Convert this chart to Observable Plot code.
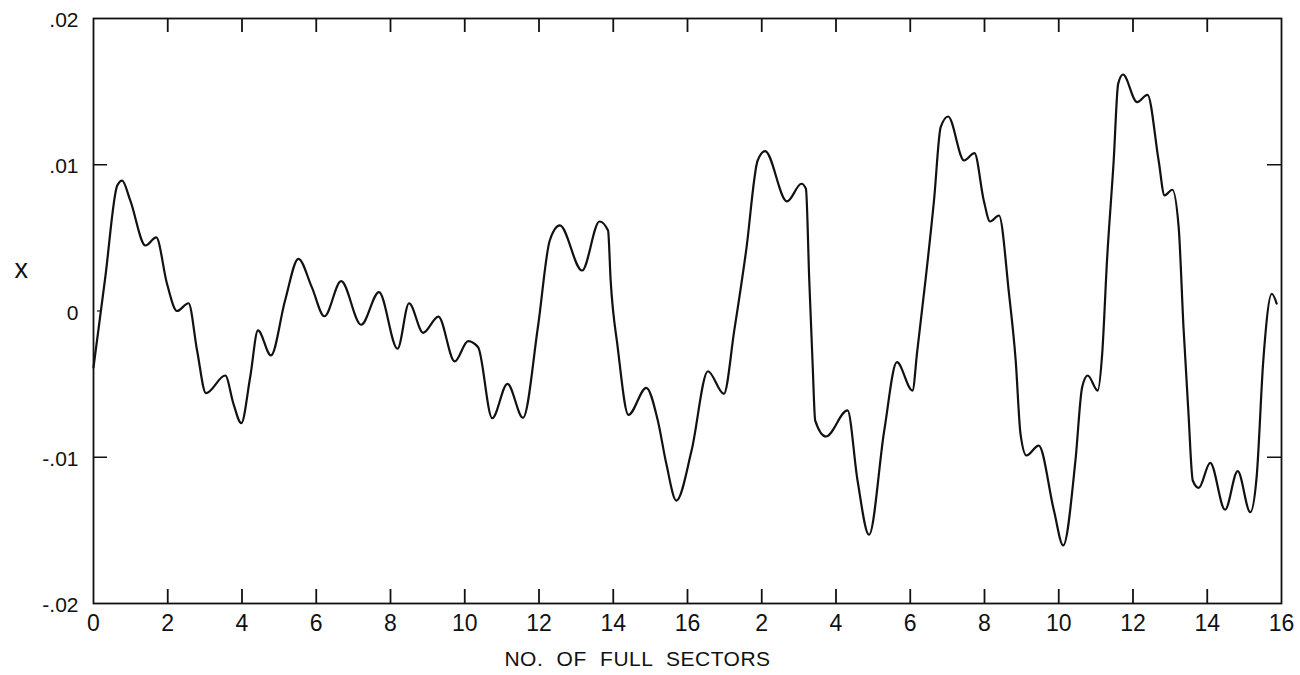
<!DOCTYPE html>
<html>
<head>
<meta charset="utf-8">
<script src="https://cdn.jsdelivr.net/npm/d3@7"></script>
<script src="https://cdn.jsdelivr.net/npm/@observablehq/plot@0.6"></script>
<style>
  html, body { margin: 0; padding: 0; background: #fff; }
  #chart { width: 1300px; height: 675px; }
</style>
</head>
<body>
<div id="chart"></div>
<script>
// Sector position (cumulative over two passes of 16 sectors)
const sectorX = [
  0, 0.32, 0.64, 0.77, 0.99, 1.40, 1.69, 1.98, 2.25, 2.56, 2.79, 3.03, 3.55, 3.77, 3.98,
  4.22, 4.43, 4.78, 5.16, 5.52, 5.88, 6.22, 6.67, 7.21, 7.69, 8.19, 8.50, 8.88, 9.29,
  9.73, 10.09, 10.36, 10.74, 11.15, 11.57, 11.97, 12.29, 12.56, 13.16, 13.63, 13.86,
  13.93, 14.12, 14.41, 14.89, 15.20, 15.43, 15.70, 16.11, 16.55, 16.98, 17.26, 17.58,
  17.89, 18.09, 18.68, 19.07, 19.19, 19.28, 19.37, 19.44, 19.73, 20.31, 20.58, 20.89,
  21.30, 21.64, 22.06, 22.19, 22.42, 22.64, 22.82, 23.02, 23.45, 23.73, 23.98, 24.15,
  24.39, 24.66, 24.84, 24.97, 25.13, 25.46, 25.87, 26.12, 26.45, 26.63, 26.78, 27.05,
  27.17, 27.30, 27.48, 27.60, 27.73, 28.11, 28.39, 28.69, 28.85, 29.06, 29.23, 29.36,
  29.49, 29.61, 29.77, 30.08, 30.48, 30.82, 31.16, 31.33, 31.51, 31.74, 31.87
];
// Displacement x
const dispX = [
  -0.00386, 0.00236, 0.00858, 0.00892, 0.00756, 0.00448, 0.00503, 0.00186, 0.0000, 0.00053,
  -0.0027, -0.00562, -0.00441, -0.00635, -0.00767,
  -0.00453, -0.00133, -0.00304, 0.00072, 0.00357, 0.00163, -0.00036, 0.00204, -0.00094,
  0.00129, -0.00258, 0.00053, -0.00149, -0.00038,
  -0.00345, -0.00206, -0.00248, -0.00733, -0.00498, -0.0073, -0.00111, 0.00482, 0.00585,
  0.00277, 0.00612, 0.0055,
  0.00209, -0.00248, -0.0071, -0.00525, -0.00749, -0.01045, -0.01296, -0.00954, -0.00412,
  -0.00566, -0.00133, 0.00414,
  0.01029, 0.01093, 0.00749, 0.0087, 0.00836, 0.00209, -0.00361, -0.00749, -0.00858,
  -0.0068, -0.01159, -0.0153,
  -0.00817, -0.0035, -0.00544, -0.0027, 0.00231, 0.00756, 0.01257, 0.0133, 0.01029,
  0.01079, 0.00756, 0.00612,
  0.00653, 0.00118, -0.00338, -0.0084, -0.00988, -0.0092, -0.01364, -0.01603, -0.01022,
  -0.00521, -0.00441, -0.00544,
  -0.00293, 0.00345, 0.01029, 0.01553, 0.01617, 0.01428, 0.01478, 0.01029, 0.0079,
  0.00829, 0.00573, -0.00111,
  -0.0068, -0.01159, -0.01209, -0.01038, -0.01359, -0.01095, -0.01376, -0.01136,
  -0.00338, 0.00118, 0.00051
];

const xTickValues = [0, 2, 4, 6, 8, 10, 12, 14, 16, 18, 20, 22, 24, 26, 28, 30, 32];
const xTickLabels = ["0", "2", "4", "6", "8", "10", "12", "14", "16", "2", "4", "6", "8", "10", "12", "14", "16"];
const yTickValues = [0.02, 0.01, 0, -0.01, -0.02];
const yTickLabels = [".02", ".01", "0", "-.01", "-.02"];
const innerXTicks = [2, 4, 6, 8, 10, 12, 14, 16, 18, 20, 22, 24, 26, 28, 30];
const innerYTicks = [0.01, -0.01];

const W = 1300, H = 675;
const mL = 93, mR = 19, mT = 18, mB = 72;
const xDom = [0, 32], yDom = [-0.02, 0.02];
const pxPerX = (W - mL - mR) / (xDom[1] - xDom[0]);
const pxPerY = (H - mT - mB) / (yDom[1] - yDom[0]);
const vTick = 14 / pxPerY;   // vertical tick length in data units
const hTick = 14 / pxPerX;   // horizontal tick length in data units
const hTickSmall = 4 / pxPerX;

const data = sectorX.map((x, i) => ({x, v: dispX[i]}));
const font = "'Liberation Sans', Arial, sans-serif";
const TITLE = "NO. OF FULL SECTORS";

const chart = Plot.plot({
  width: W,
  height: H,
  marginLeft: mL,
  marginRight: mR,
  marginTop: mT,
  marginBottom: mB,
  style: {fontFamily: font, background: "#fff", color: "#111"},
  x: {domain: xDom, axis: null},
  y: {domain: yDom, axis: null},
  marks: [
    Plot.frame({stroke: "#111", strokeWidth: 1.8}),
    // inward ticks
    Plot.ruleX(innerXTicks, {x: d => d, y1: yDom[0], y2: yDom[0] + vTick, stroke: "#111", strokeWidth: 1.8}),
    Plot.ruleX(innerXTicks, {x: d => d, y1: yDom[1], y2: yDom[1] - vTick, stroke: "#111", strokeWidth: 1.8}),
    Plot.ruleY(innerYTicks, {y: d => d, x1: xDom[0], x2: xDom[0] + hTick, stroke: "#111", strokeWidth: 1.5}),
    Plot.ruleY(innerYTicks, {y: d => d, x1: xDom[1], x2: xDom[1] - hTick, stroke: "#111", strokeWidth: 1.5}),
    Plot.ruleY([0], {y: d => d, x1: xDom[0] + hTickSmall, x2: xDom[0] + 2 * hTickSmall, stroke: "#111", strokeWidth: 1.2}),
    // tick labels
    Plot.text(xTickValues, {x: d => d, text: (d, i) => xTickLabels[i], frameAnchor: "bottom", dy: 27, fontSize: 23, fill: "#111"}),
    Plot.text(yTickValues, {y: d => d, text: (d, i) => yTickLabels[i], frameAnchor: "left", textAnchor: "end", dx: -15, dy: 2, fontSize: 21, fill: "#111"}),
    // axis titles
    Plot.text(["x"], {frameAnchor: "left", dx: -79, dy: -42, fontSize: 27, fill: "#111"}),
    Plot.text([TITLE], {frameAnchor: "bottom", dx: -50, dy: 62, fontSize: 21, fill: "#111"}),
    // curve
    Plot.line(data, {x: "x", y: "v", curve: "monotone-x", stroke: "#111", strokeWidth: 2.2})
  ]
});
d3.select(chart).selectAll("text").filter(function () { return this.textContent === TITLE; })
  .style("word-spacing", "7px").style("letter-spacing", "0.5px");
document.getElementById("chart").appendChild(chart);
</script>
</body>
</html>
